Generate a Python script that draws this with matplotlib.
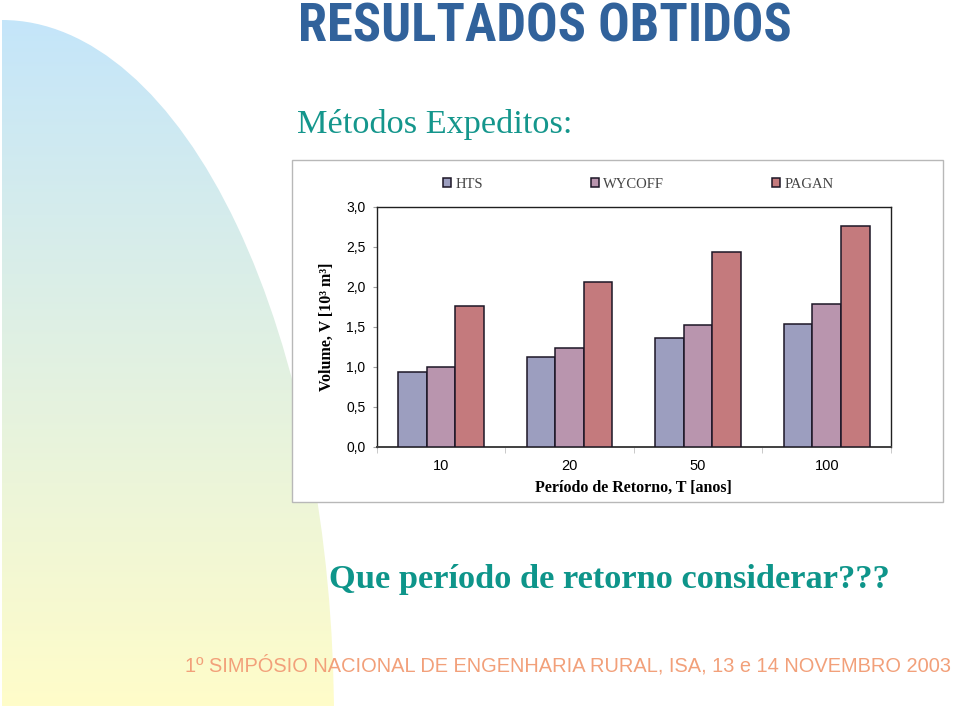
import numpy as np
import matplotlib
matplotlib.use('Agg')
import matplotlib.pyplot as plt
from matplotlib.patches import Ellipse, Rectangle
from matplotlib import font_manager

# ---------------- data ----------------
categories = ['10', '20', '50', '100']
hts = [0.93, 1.12, 1.36, 1.54]
wycoff = [1.00, 1.23, 1.52, 1.78]
pagan = [1.76, 2.06, 2.44, 2.76]
series_names = ['HTS', 'WYCOFF', 'PAGAN']
yticks = [0.0, 0.5, 1.0, 1.5, 2.0, 2.5, 3.0]
ytick_labels = ['0,0', '0,5', '1,0', '1,5', '2,0', '2,5', '3,0']

title_text = 'RESULTADOS OBTIDOS'
subtitle_text = 'Métodos Expeditos:'
question_text = 'Que período de retorno considerar???'
footer_text = '1º SIMPÓSIO NACIONAL DE ENGENHARIA RURAL, ISA, 13 e 14 NOVEMBRO 2003'
xlabel_text = 'Período de Retorno, T [anos]'
ylabel_text = 'Volume, V [10³ m³]'

# ---------------- fonts ----------------
entries = font_manager.fontManager.ttflist
names = {e.name for e in entries}

def pick_condensed():
    for nm in ['Liberation Sans Narrow', 'Roboto Condensed', 'Open Sans Condensed',
               'Arial Narrow', 'Nimbus Sans Narrow']:
        if nm in names:
            return nm, 'normal'
    for e in entries:
        if e.name in ('DejaVu Sans', 'Roboto', 'Open Sans', 'Noto Sans') and \
                str(e.stretch) in ('condensed', 'semi-condensed', '75', '87.5'):
            return e.name, 'condensed'
    return 'Liberation Sans', 'normal'

cond_family, cond_stretch = pick_condensed()
sans = 'Liberation Sans'
serif = 'Liberation Serif'

W, H = 959, 706
fig = plt.figure(figsize=(W / 100, H / 100), dpi=100)
fig.patch.set_facecolor('white')

# ---------------- background decoration ----------------
bg = fig.add_axes([0, 0, 1, 1])
bg.set_xlim(0, W)
bg.set_ylim(H, 0)
bg.axis('off')
g = np.linspace(0, 1, 256)[:, None, None]
c_top = np.array([0.77, 0.90, 0.98])[None, None, :]
c_bot = np.array([1.00, 0.99, 0.79])[None, None, :]
img = c_top * (1 - g) + c_bot * g
im = bg.imshow(img, extent=[2, 340, 706, 20], aspect='auto', zorder=0)
ell = Ellipse((2, 720), 2 * 332, 2 * 700, facecolor='none', edgecolor='none')
bg.add_patch(ell)
im.set_clip_path(ell)

# chart frame box
bg.add_patch(Rectangle((292, 160), 651, 342, facecolor='white',
                       edgecolor='#b8b8b8', lw=1.0, zorder=2))

renderer = fig.canvas.get_renderer()

def fit_text(x, y, s, target_w, **kw):
    t = bg.text(x, y, s, **kw)
    w = t.get_window_extent(renderer).width
    t.set_fontsize(t.get_fontsize() * target_w / w)
    return t

fit_text(298, 42, title_text, 494, fontsize=39, fontweight='bold',
         family=[cond_family, 'DejaVu Sans'], fontstretch=cond_stretch,
         color='#31629b', va='baseline', zorder=3)
fit_text(297, 133.3, subtitle_text, 275, fontsize=24.5,
         family=[serif, 'DejaVu Serif'], color='#14968c', va='baseline', zorder=3)
fit_text(329, 588, question_text, 561, fontsize=26, fontweight='bold',
         family=[serif, 'DejaVu Serif'], color='#0e958a', va='baseline', zorder=3)
fit_text(185, 671, footer_text, 770, fontsize=15,
         family=[sans, 'DejaVu Sans'],
         color='#f2a07a', va='baseline', zorder=3)

# ---------------- chart ----------------
L, R, T, B = 376.7, 891.0, 207.0, 446.7
ax = fig.add_axes([L / W, 1 - B / H, (R - L) / W, (B - T) / H])
ax.set_facecolor('white')

x = np.arange(len(categories))
bw = 0.2224
colors = ['#9c9ebf', '#b995ae', '#c47a7d']
for i, (vals, name, col) in enumerate(zip([hts, wycoff, pagan], series_names, colors)):
    ax.bar(x + (i - 1) * bw, vals, bw, color=col, edgecolor='#1c1626',
           linewidth=1.1, label=name, zorder=3)

ax.set_xlim(-0.5, len(categories) - 0.5)
ax.set_ylim(0, 3.0)
ax.set_yticks(yticks)
ax.set_yticklabels(ytick_labels, fontsize=10, family=sans)
ax.set_xticks(x)
ax.set_xticklabels(categories, fontsize=10.5, family=sans)
ax.set_xticks(np.arange(-0.5, len(categories)), minor=True)
ax.tick_params(axis='x', which='major', length=0, pad=9)
ax.tick_params(axis='x', which='minor', length=4, color='#c0c0c0', direction='out')
ax.tick_params(axis='y', length=3, color='#a0a0a0', direction='out', pad=5)

for s in ['top', 'right', 'left']:
    ax.spines[s].set_color('#202020')
    ax.spines[s].set_linewidth(1.0)
ax.spines['bottom'].set_color('#404040')
ax.spines['bottom'].set_linewidth(1.4)

ax.set_ylabel(ylabel_text, fontsize=11.5, fontweight='bold', family=serif)
ax.yaxis.set_label_coords((327 - L) / (R - L), 0.5)
ax.yaxis.label.set_va('center')
ax.set_xlabel(xlabel_text, fontsize=11.5, fontweight='bold', family=serif)
ax.xaxis.set_label_coords(0.5, (B - 488) / (B - T))
ax.xaxis.label.set_va('center')

leg = ax.legend(loc='center', bbox_to_anchor=((638.4 - L) / (R - L), 1 + (T - 184) / (B - T)),
                ncol=3, frameon=False, prop={'family': serif, 'size': 10.5},
                handlelength=0.55, handleheight=0.55, handletextpad=0.3,
                columnspacing=7.4, borderaxespad=0)
for t in leg.get_texts():
    t.set_color('#444444')

fig.savefig('out.png', dpi=100)
